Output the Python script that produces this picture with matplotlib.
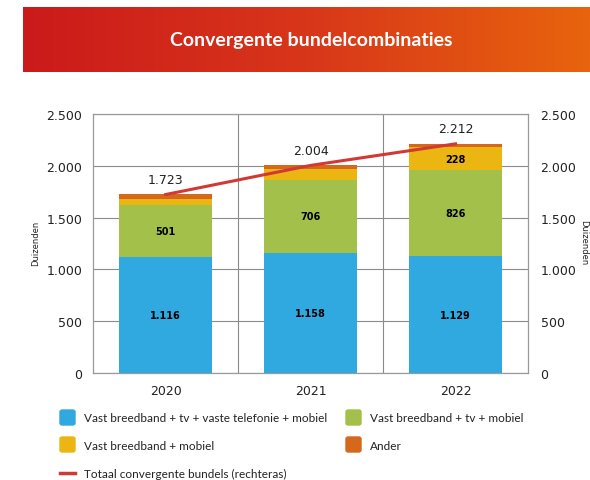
import numpy as np
import matplotlib
matplotlib.use("Agg")
import matplotlib.pyplot as plt
from matplotlib.patches import FancyBboxPatch
from matplotlib.lines import Line2D
from matplotlib.colors import LinearSegmentedColormap
from matplotlib.ticker import FuncFormatter, MultipleLocator

plt.rcParams["font.family"] = ["Lato", "DejaVu Sans"]

years = ["2020", "2021", "2022"]
vast_tv_tel_mob = [1116, 1158, 1129]
vast_tv_mob = [501, 706, 826]
vast_mob = [65, 105, 228]
ander = [41, 35, 29]
totaal = [1723, 2004, 2212]

series = [
    ("Vast breedband + tv + vaste telefonie + mobiel", vast_tv_tel_mob, "#30A8E0", True),
    ("Vast breedband + tv + mobiel", vast_tv_mob, "#A2C04A", True),
    ("Vast breedband + mobiel", vast_mob, "#EBB611", False),
    ("Ander", ander, "#D5681A", False),
]
line_label = "Totaal convergente bundels (rechteras)"
line_color = "#D23934"

W, H = 590, 481
fig = plt.figure(figsize=(W / 100, H / 100), dpi=100)

def fx(px):
    return px / W

def fy(py):
    return 1 - py / H

# ── Header band ──────────────────────────────────────────────
hax = fig.add_axes([fx(23), fy(73), fx(590 - 23), (73 - 8) / H])
grad = LinearSegmentedColormap.from_list("hdr", ["#CB1A1B", "#D8361A", "#E8640D"])
hax.imshow(np.linspace(0, 1, 256)[None, :], aspect="auto", cmap=grad, extent=[0, 1, 0, 1])
hax.set_axis_off()
fig.text(fx(311), fy(41), "Convergente bundelcombinaties", color="white", fontsize=14,
         fontweight="bold", ha="center", va="center")

# ── Main chart ───────────────────────────────────────────────
ax = fig.add_axes([fx(93.3), fy(374), (528 - 93.3) / W, (374 - 115) / H])
x = np.arange(len(years))
bottom = np.zeros(len(years))
for name, vals, col, _ in series:
    ax.bar(x, vals, width=0.64, bottom=bottom, color=col, zorder=3)
    bottom += np.array(vals)

# segment labels
bottom = np.zeros(len(years))
for name, vals, col, show in series:
    for i, v in enumerate(vals):
        if show or (name == "Vast breedband + mobiel" and v > 150):
            ax.text(x[i], bottom[i] + v / 2, f"{v:,}".replace(",", "."), ha="center",
                    va="center", fontsize=7, fontweight="bold", family="DejaVu Sans", zorder=5)
    bottom += np.array(vals)

ax.set_xlim(-0.5, 2.5)
ax.set_ylim(0, 2500)
ax.yaxis.set_major_locator(MultipleLocator(500))
fmt = FuncFormatter(lambda v, p: f"{int(v):,}".replace(",", "."))
ax.yaxis.set_major_formatter(fmt)
ax.set_xticks(x)
ax.set_xticklabels(years)
ax.set_xticks([0.5, 1.5], minor=True)
ax.grid(axis="y", color="#8a8a8a", lw=0.8, zorder=0)
ax.grid(axis="x", which="minor", color="#8a8a8a", lw=0.8, zorder=0)
ax.tick_params(axis="both", which="both", length=0, labelsize=9, colors="#222222")
ax.tick_params(axis="x", pad=8)
ax.tick_params(axis="y", pad=8)
for lbl in ax.get_xticklabels() + ax.get_yticklabels():
    lbl.set_family("DejaVu Sans")
for s in ax.spines.values():
    s.set_color("#9a9a9a")
    s.set_linewidth(0.9)

ax2 = ax.twinx()
ax2.set_ylim(0, 2500)
ax2.yaxis.set_major_locator(MultipleLocator(500))
ax2.yaxis.set_major_formatter(fmt)
ax2.tick_params(axis="y", length=0, labelsize=9, colors="#222222", pad=9)
for lbl in ax2.get_yticklabels():
    lbl.set_family("DejaVu Sans")
for s in ax2.spines.values():
    s.set_visible(False)
ax2.plot(x, totaal, color=line_color, lw=2.2, zorder=6)
for i, v in enumerate(totaal):
    ax2.annotate(f"{v:,}".replace(",", "."), (x[i], v), xytext=(0, 11),
                 textcoords="offset points", ha="center", va="center", fontsize=9,
                 family="DejaVu Sans", color="#222222")

# axis titles
fig.text(fx(36), fy(243), "Duizenden", rotation=90, fontsize=6, ha="center", va="center",
         family="DejaVu Sans", color="#222222")
fig.text(fx(584), fy(243), "Duizenden", rotation=-90, fontsize=6, ha="center", va="center",
         family="DejaVu Sans", color="#222222")

# ── Legend ───────────────────────────────────────────────────
leg_pos = [(60, 419), (346, 419), (60, 446), (346, 446)]
for (name, vals, col, _), (px, py) in zip(series, leg_pos):
    fig.patches.append(FancyBboxPatch((fx(px), fy(py + 7)), 15 / W, 15 / H,
                                      boxstyle="round,pad=0,rounding_size=0.004",
                                      transform=fig.transFigure, color=col))
    fig.text(fx(px + 24), fy(py), name, fontsize=8.5, va="center", color="#222222")
fig.lines.append(Line2D([fx(60), fx(75)], [fy(474), fy(474)], transform=fig.transFigure,
                        color=line_color, lw=2.5))
fig.text(fx(84), fy(474), line_label, fontsize=8.5, va="center", color="#222222")

fig.savefig("out.png", dpi=100)
